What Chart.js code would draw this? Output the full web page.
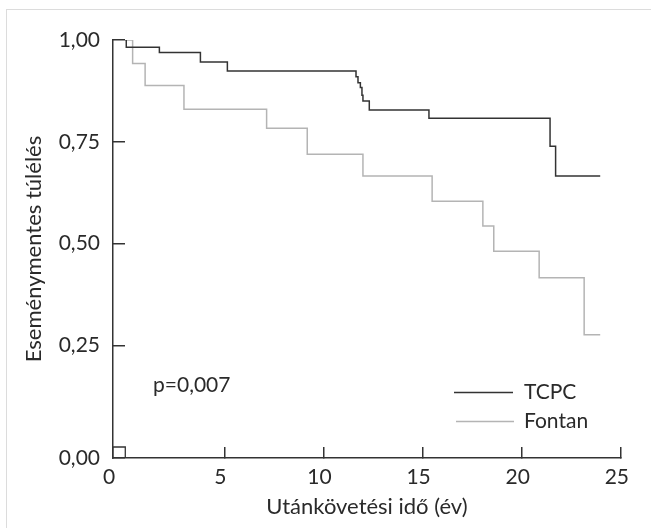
<!DOCTYPE html>
<html>
<head>
<meta charset="utf-8">
<script src="https://cdn.jsdelivr.net/npm/chart.js@4.4.1/dist/chart.umd.min.js"></script>
<style>
  html, body { margin: 0; padding: 0; background: #fff; overflow: hidden; }
  #keret { position: absolute; left: 6px; top: 9px; width: 700px; height: 600px;
           border-top: 1px solid #dcdcdc; border-left: 1px solid #dcdcdc; }
  #tarolo { position: absolute; left: 0; top: 0; width: 651px; height: 528px; }
</style>
</head>
<body>
<div id="keret"></div>
<div id="tarolo"><canvas id="myChart" width="651" height="528"></canvas></div>
<script>
// Tengelyek (az eredeti ábrán a tengelyek kicsit a 0 előtt kezdődnek)
const xMin = -0.62;
const xMax = 25;
const yMin = -0.027;
const yMax = 1;
const xTicks = [xMin, 5, 10, 15, 20, 25];
const xTickLabels = ["0", "5", "10", "15", "20", "25"];
const yTicks = [yMin, 0.25, 0.5, 0.75, 1];
const yTickLabels = ["0,00", "0,25", "0,50", "0,75", "1,00"];

// Kaplan-Meier lépcsők: idő (év) és túlélés
const tcpcIdo = [0, 0.05, 1.72, 3.79, 5.15, 11.64, 11.74, 11.86, 11.94, 11.99, 12.31, 15.32, 21.43, 21.71, 23.96];
const tcpcTul = [1, 0.982, 0.969, 0.946, 0.924, 0.910, 0.895, 0.883, 0.864, 0.850, 0.828, 0.808, 0.739, 0.666, 0.666];

const fontanIdo = [0, 0.37, 1.0, 2.96, 7.13, 9.18, 11.99, 15.48, 18.04, 18.59, 20.88, 23.15, 23.96];
const fontanTul = [1, 0.942, 0.888, 0.830, 0.783, 0.719, 0.666, 0.604, 0.543, 0.481, 0.416, 0.276, 0.276];

// kis négyzet az origónál
const origoX = [xMin, 0, 0];
const origoY = [0, 0, yMin];

const csoportok = ["TCPC", "Fontan"];
const pSzoveg = "p=0,007";

const szinFekete = "#333333";
const szinSzurke = "#b4b4b4";
const szinSzoveg = "#2a2a2a";
const betu = "Lato, 'Noto Sans', sans-serif";

function pontok(xs, ys) {
  return xs.map((x, i) => ({ x: x, y: ys[i] }));
}

// Jelmagyarázat és p-érték a rajzterületen belül
const feliratok = {
  id: "feliratok",
  afterDraw(chart) {
    const ctx = chart.ctx;
    ctx.save();
    ctx.font = "21px " + betu;
    ctx.fillStyle = szinSzoveg;
    ctx.textBaseline = "middle";
    ctx.textAlign = "left";
    ctx.fillText(pSzoveg, 153, 385);

    ctx.lineWidth = 1.5;
    ctx.strokeStyle = szinFekete;
    ctx.beginPath();
    ctx.moveTo(454, 392.5);
    ctx.lineTo(513, 392.5);
    ctx.stroke();
    ctx.fillText(csoportok[0], 524, 392);

    ctx.strokeStyle = szinSzurke;
    ctx.beginPath();
    ctx.moveTo(456, 421.5);
    ctx.lineTo(514, 421.5);
    ctx.stroke();
    ctx.fillText(csoportok[1], 524, 421);
    ctx.restore();
  },
};

const config = {
  type: "line",
  data: {
    datasets: [
      {
        label: csoportok[0],
        data: pontok(tcpcIdo, tcpcTul),
        borderColor: szinFekete,
        borderWidth: 1.5,
        stepped: true,
        pointRadius: 0,
        fill: false,
      },
      {
        label: csoportok[1],
        data: pontok(fontanIdo, fontanTul),
        borderColor: szinSzurke,
        borderWidth: 1.5,
        stepped: true,
        pointRadius: 0,
        fill: false,
      },
      {
        label: "origo",
        data: pontok(origoX, origoY),
        borderColor: szinFekete,
        borderWidth: 1.3,
        pointRadius: 0,
        fill: false,
      },
    ],
  },
  options: {
    responsive: false,
    animation: false,
    layout: { padding: { left: 6, right: 27, top: 40, bottom: 0 } },
    plugins: {
      legend: { display: false },
      tooltip: { enabled: false },
    },
    scales: {
      x: {
        type: "linear",
        min: xMin,
        max: xMax,
        afterBuildTicks: (scale) => {
          scale.ticks = xTicks.map((v) => ({ value: v }));
        },
        afterFit: (scale) => {
          scale.height = 70;
        },
        border: { color: szinFekete, width: 1.5 },
        grid: { drawOnChartArea: false, tickLength: -11, color: szinFekete, lineWidth: 1.5 },
        ticks: {
          autoSkip: false,
          maxRotation: 0,
          padding: 18,
          labelOffset: -4,
          color: szinSzoveg,
          font: { family: betu, size: 21 },
          callback: function (value, index) {
            return xTickLabels[index];
          },
        },
        title: {
          display: true,
          text: "Utánkövetési idő (év)",
          color: szinSzoveg,
          font: { family: betu, size: 22 },
          padding: { top: 0, bottom: 8 },
          align: "center",
        },
      },
      y: {
        type: "linear",
        min: yMin,
        max: yMax,
        afterBuildTicks: (scale) => {
          scale.ticks = yTicks.map((v) => ({ value: v }));
        },
        afterFit: (scale) => {
          scale.width = 107;
        },
        border: { color: szinFekete, width: 1.5 },
        grid: { drawOnChartArea: false, tickLength: -12, color: szinFekete, lineWidth: 1.5 },
        ticks: {
          autoSkip: false,
          padding: 25,
          color: szinSzoveg,
          font: { family: betu, size: 21 },
          callback: function (value, index) {
            return yTickLabels[index];
          },
        },
        title: {
          display: true,
          text: "Eseménymentes túlélés",
          color: szinSzoveg,
          font: { family: betu, size: 22 },
          padding: { top: 15, bottom: 0 },
        },
      },
    },
  },
  plugins: [feliratok],
};

new Chart(document.getElementById("myChart"), config);
</script>
</body>
</html>
